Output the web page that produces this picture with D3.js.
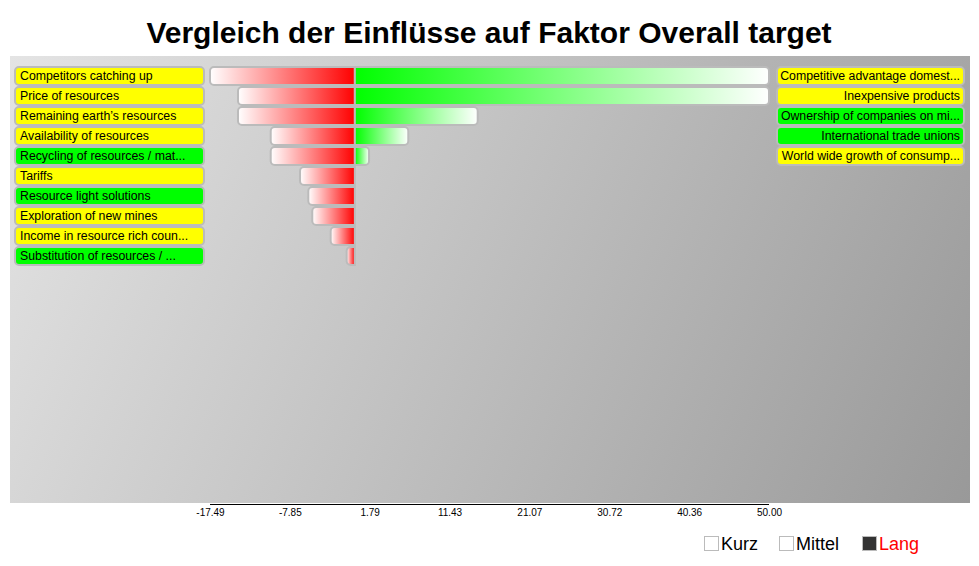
<!DOCTYPE html>
<html><head><meta charset="utf-8">
<script src="https://cdn.jsdelivr.net/npm/d3@7"></script>
<style>body{margin:0;background:#fff} svg{display:block} text{font-family:"Liberation Sans",Arial,Helvetica,sans-serif}</style>
</head><body><svg id="chart" width="979" height="566"></svg>
<script>
const chartTitle = "Vergleich der Einflüsse auf Faktor Overall target";
const leftLabels = ["Competitors catching up","Price of resources","Remaining earth’s resources","Availability of resources","Recycling of resources / mat...","Tariffs","Resource light solutions","Exploration of new mines","Income in resource rich coun...","Substitution of resources / ..."];
const leftValues = [-17.49,-14.11,-14.11,-10.16,-10.16,-6.62,-5.62,-5.14,-2.92,-0.99];
const leftGroups = ["Y","Y","Y","Y","G","Y","G","Y","Y","G"];
const rightLabels = ["Competitive advantage domest...","Inexpensive products","Ownership of companies on mi...","International trade unions","World wide growth of consump..."];
const rightValues = [50,50,14.83,6.45,1.71];
const rightGroups = ["Y","Y","G","G","Y"];
const tickLabels = ["-17.49","-7.85","1.79","11.43","21.07","30.72","40.36","50.00"];
const legendLabels = ["Kurz","Mittel","Lang"];

const groupColor = {Y:"#ffff00", G:"#00ff00"};
const svg = d3.select("#chart");
const defs = svg.append("defs");

const bg = defs.append("linearGradient").attr("id","bg").attr("gradientUnits","userSpaceOnUse")
  .attr("x1",10).attr("y1",56).attr("x2",970).attr("y2",503);
bg.append("stop").attr("offset","0").attr("stop-color","#e4e4e4");
bg.append("stop").attr("offset","1").attr("stop-color","#999999");
const gRed = defs.append("linearGradient").attr("id","gRed");
gRed.append("stop").attr("offset","0").attr("stop-color","#ffffff");
gRed.append("stop").attr("offset","1").attr("stop-color","#ff0000");
const gGreen = defs.append("linearGradient").attr("id","gGreen");
gGreen.append("stop").attr("offset","0").attr("stop-color","#00ff00");
gGreen.append("stop").attr("offset","1").attr("stop-color","#ffffff");

svg.append("rect").attr("x",10).attr("y",56).attr("width",960).attr("height",447).attr("fill","url(#bg)");

svg.append("text").attr("x",489).attr("y",43).attr("text-anchor","middle")
  .attr("font-size",30).attr("font-weight","bold").attr("fill","#000").text(chartTitle);

const x = d3.scaleLinear().domain([-17.49, 50]).range([210, 769]);
const rows = d3.range(leftLabels.length);
const y = d3.scaleBand().domain(rows).range([66, 266]);
const bh = y.bandwidth() - 2;

function barPath(v, top) {
  const x0 = x(0), xv = x(v), h = bh;
  const r = Math.min(4, Math.abs(xv - x0) / 2);
  const p = d3.path();
  if (v < 0) {
    p.moveTo(x0, top); p.lineTo(xv + r, top); p.arcTo(xv, top, xv, top + r, r);
    p.lineTo(xv, top + h - r); p.arcTo(xv, top + h, xv + r, top + h, r); p.lineTo(x0, top + h); p.closePath();
  } else {
    p.moveTo(x0, top); p.lineTo(xv - r, top); p.arcTo(xv, top, xv, top + r, r);
    p.lineTo(xv, top + h - r); p.arcTo(xv, top + h, xv - r, top + h, r); p.lineTo(x0, top + h); p.closePath();
  }
  return p.toString();
}

svg.append("g").selectAll("path").data(leftValues).join("path")
  .attr("d",(d,i)=>barPath(d, y(i)+1)).attr("fill","url(#gRed)").attr("stroke","#bbbbbb").attr("stroke-width",2);
svg.append("g").selectAll("path").data(rightValues).join("path")
  .attr("d",(d,i)=>barPath(d, y(i)+1)).attr("fill","url(#gGreen)").attr("stroke","#bbbbbb").attr("stroke-width",2);

const lg = svg.append("g").selectAll("g").data(leftLabels).join("g");
lg.append("rect").attr("x",15).attr("y",(d,i)=>y(i)+1).attr("width",189).attr("height",bh).attr("rx",4)
  .attr("fill",(d,i)=>groupColor[leftGroups[i]]).attr("stroke","#bbbbbb").attr("stroke-width",2);
lg.append("text").attr("x",20).attr("y",(d,i)=>y(i)+y.bandwidth()/2+4.2).attr("font-size",12.3).attr("fill","#000").text(d=>d);

const rg = svg.append("g").selectAll("g").data(rightLabels).join("g");
rg.append("rect").attr("x",777).attr("y",(d,i)=>y(i)+1).attr("width",187).attr("height",bh).attr("rx",4)
  .attr("fill",(d,i)=>groupColor[rightGroups[i]]).attr("stroke","#bbbbbb").attr("stroke-width",2);
rg.append("text").attr("x",960).attr("y",(d,i)=>y(i)+y.bandwidth()/2+4.2).attr("text-anchor","end").attr("font-size",12.3).attr("fill","#000").text(d=>d);

const axis = d3.axisBottom(x).tickValues(tickLabels.map(Number)).tickFormat((d,i)=>tickLabels[i]).tickSize(0).tickPadding(5);
const ag = svg.append("g").attr("transform","translate(0,504)").call(axis);
ag.select(".domain").attr("stroke","#000").attr("d",`M${x.range()[0]},0.5H${x.range()[1]}`);
ag.selectAll("text").attr("font-size",10).attr("font-family",'"Liberation Sans",Arial,sans-serif').attr("fill","#000");

const legX = [704, 779, 862];
const legFill = ["#ffffff","#ffffff","#333333"];
const legText = ["#000","#000","#ff0000"];
const leg = svg.append("g").selectAll("g").data(legendLabels).join("g");
leg.append("rect").attr("x",(d,i)=>legX[i]+0.5).attr("y",536.5).attr("width",14).attr("height",14)
  .attr("fill",(d,i)=>legFill[i]).attr("stroke","#bbbbbb").attr("stroke-width",1);
leg.append("text").attr("x",(d,i)=>legX[i]+17).attr("y",549.5).attr("font-size",18).attr("fill",(d,i)=>legText[i]).text(d=>d);
</script></body></html>
